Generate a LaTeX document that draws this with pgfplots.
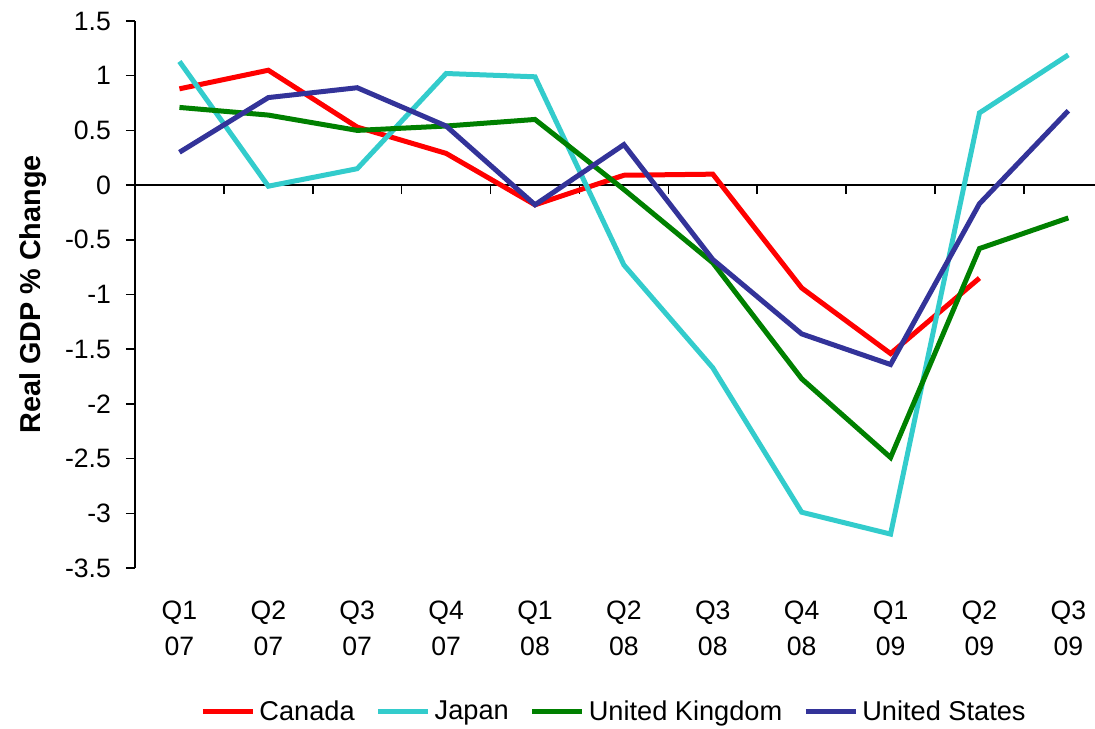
\documentclass[border=0pt]{standalone}
\usepackage{pgfplots}
\pgfplotsset{compat=1.18}
\usepackage{fontspec}
\setmainfont{Liberation Sans}

\definecolor{caRed}{HTML}{FF0000}
\definecolor{jpCyan}{HTML}{33CCCC}
\definecolor{ukGreen}{HTML}{008000}
\definecolor{usBlue}{HTML}{333399}

\begin{document}
\begin{tikzpicture}
\begin{axis}[
  scale only axis,
  width=480pt, height=273.5pt,
  xmin=-0.5, xmax=10.3,
  ymin=-3.5, ymax=1.5,
  axis x line=middle,
  axis y line=left,
  axis line style={-, line width=0.8pt},
  tick align=outside,
  ytick={-3.5,-3,-2.5,-2,-1.5,-1,-0.5,0,0.5,1,1.5},
  yticklabels={-3.5,-3,-2.5,-2,-1.5,-1,-0.5,0,0.5,1,1.5},
  major tick length=4.5pt,
  minor tick length=4.5pt,
  tick style={black, line width=0.8pt},
  xtick={0,...,10},
  xticklabels={Q1\\07,Q2\\07,Q3\\07,Q4\\07,Q1\\08,Q2\\08,Q3\\08,Q4\\08,Q1\\09,Q2\\09,Q3\\09},
  major x tick style={draw=none},
  minor xtick={0.5,1.5,...,9.5},
  xticklabel style={align=center, yshift=-200pt,
    font=\fontsize{13.3}{18}\selectfont},
  yticklabel style={font=\fontsize{13.3}{16}\selectfont, xshift=-4pt},
  ylabel={Real GDP \% Change},
  every axis y label/.style={at={(ticklabel cs:0.5,3.5pt)}, rotate=90, anchor=south,
    yshift=-1pt, font=\fontsize{14.4}{17}\bfseries\selectfont},
  legend columns=4,
  legend style={draw=none, at={(0.5,-0.263)}, anchor=center,
    font=\fontsize{13.6}{16}\selectfont,
    /tikz/every even column/.append style={column sep=8.5pt}},
  legend image code/.code={\draw[#1, line width=2.5pt] (0pt,0pt) -- (25pt,0pt);},
  clip=false,
]
\addplot[caRed, line width=2.5pt] coordinates {
  (0,0.88) (1,1.05) (2,0.53) (3,0.29) (4,-0.18) (5,0.09) (6,0.10)
  (7,-0.94) (8,-1.54) (9,-0.85)};
\addlegendentry{Canada}
\addplot[jpCyan, line width=2.5pt] coordinates {
  (0,1.13) (1,-0.01) (2,0.15) (3,1.02) (4,0.99) (5,-0.73) (6,-1.67)
  (7,-2.99) (8,-3.19) (9,0.66) (10,1.19)};
\addlegendentry{Japan}
\addplot[ukGreen, line width=2.5pt] coordinates {
  (0,0.71) (1,0.64) (2,0.50) (3,0.54) (4,0.60) (5,-0.04) (6,-0.71)
  (7,-1.77) (8,-2.49) (9,-0.58) (10,-0.30)};
\addlegendentry{United Kingdom}
\addplot[usBlue, line width=2.5pt] coordinates {
  (0,0.30) (1,0.80) (2,0.89) (3,0.54) (4,-0.18) (5,0.37) (6,-0.68)
  (7,-1.36) (8,-1.64) (9,-0.17) (10,0.68)};
\addlegendentry{United States}
\end{axis}
\pgfresetboundingbox
\path (current axis.south west) ++(-67.5pt,-80pt) rectangle ++(547.5pt,364pt);
\end{tikzpicture}
\end{document}
